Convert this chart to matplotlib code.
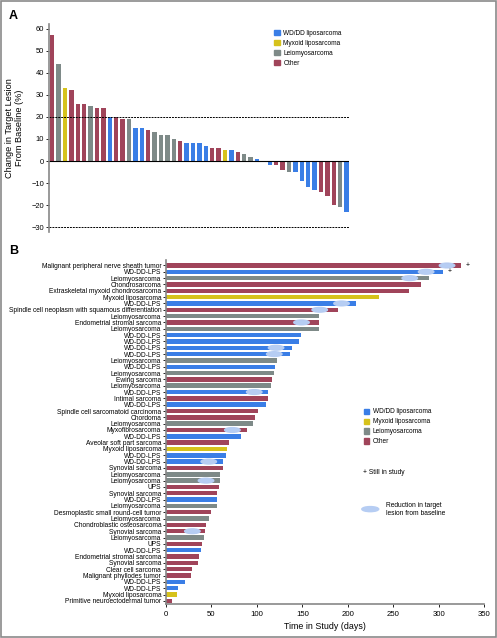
import matplotlib.pyplot as plt
from matplotlib.patches import Ellipse, Rectangle

plt.rcParams["font.family"] = ["Liberation Sans Narrow", "Liberation Sans", "DejaVu Sans"]

COLORS = {
    "WD/DD liposarcoma": "#3a7ee6",
    "Myxoid liposarcoma": "#d6c21c",
    "Leiomyosarcoma": "#7e8a88",
    "Other": "#a0445a",
}
CODE = {"B": "WD/DD liposarcoma", "Y": "Myxoid liposarcoma", "G": "Leiomyosarcoma", "R": "Other"}
SHRINK_COLOR = "#b6cdf3"

# Panel A: best change in target lesion (%)
change_values = [57, 44, 33, 32, 26, 26, 25, 24, 24, 20, 20, 19, 19, 15, 15, 14, 13, 12, 12, 10,
                 9, 8, 8, 8, 7, 6, 6, 5, 5, 4, 3, 2, 1, 0, -2, -2, -4, -5, -5, -9, -12, -13,
                 -14, -16, -20, -21, -23]
change_types = list("RGYRRRGRRBRRGBBRGGGGRBBBBRRYBRGGBBBRRGBBBBRRRGB")

# Panel B: time in study (days)
patients = [
    "Malignant peripheral nerve sheath tumor", "WD-DD-LPS", "Leiomyosarcoma", "Chondrosarcoma",
    "Extraskeletal myxoid chondrosarcoma", "Myxoid liposarcoma", "WD-DD-LPS",
    "Spindle cell neoplasm with squamous differentiation", "Leiomyosarcoma",
    "Endometrial stromal sarcoma", "Leiomyosarcoma", "WD-DD-LPS", "WD-DD-LPS", "WD-DD-LPS",
    "WD-DD-LPS", "Leiomyosarcoma", "WD-DD-LPS", "Leiomyosarcoma", "Ewing sarcoma",
    "Leiomyosarcoma", "WD-DD-LPS", "Intimal sarcoma", "WD-DD-LPS",
    "Spindle cell sarcomatoid carcinoma", "Chordoma", "Leiomyosarcoma", "Myxofibrosarcoma",
    "WD-DD-LPS", "Aveolar soft part sarcoma", "Myxoid liposarcoma", "WD-DD-LPS", "WD-DD-LPS",
    "Synovial sarcoma", "Leiomyosarcoma", "Leiomyosarcoma", "UPS", "Synovial sarcoma",
    "WD-DD-LPS", "Leiomyosarcoma", "Desmoplastic small round-cell tumor", "Leiomyosarcoma",
    "Chondroblastic osteosarcoma", "Synovial sarcoma", "Leiomyosarcoma", "UPS", "WD-DD-LPS",
    "Endometrial stromal sarcoma", "Synovial sarcoma", "Clear cell sarcoma",
    "Malignant phyllodes tumor", "WD-DD-LPS", "WD-DD-LPS", "Myxoid liposarcoma",
    "Primitive neuroectodermal tumor",
]
days = [324, 305, 289, 280, 267, 234, 209, 189, 168, 168, 168, 148, 146, 138, 136, 122, 120,
        119, 117, 115, 112, 112, 110, 101, 98, 96, 89, 83, 69, 67, 66, 63, 63, 59, 59, 58, 56,
        56, 56, 50, 47, 44, 43, 42, 40, 38, 36, 35, 29, 28, 21, 13, 12, 7]
day_types = list("RBGRRYBRGRGBBBBGBGRGBRBRRGRBRYBBRGGRRBGRGRRGRBRRRRBBYR")
still_in_study = [0, 1]
shrink_rows = [0, 1, 2, 6, 7, 9, 13, 14, 20, 26, 31, 34, 42]
shrink_days = [309, 286, 268, 193, 169, 149, 121, 119, 97, 73, 47, 44, 29]

fig = plt.figure(figsize=(4.97, 6.38), dpi=100)
fig.patches.append(Rectangle((0.002, 0.002), 0.996, 0.996, transform=fig.transFigure,
                             fill=False, edgecolor="#8a8a8a", linewidth=1.2))

# ---- Panel A ----
ax = fig.add_axes([0.0986, 0.637, 0.604, 0.325])
xs = list(range(len(change_values)))
ax.bar(xs, change_values, width=0.7, color=[COLORS[CODE[t]] for t in change_types])
ax.axhline(0, color="black", linewidth=0.8)
ax.axhline(20, color="black", linewidth=0.7, linestyle=(0, (2, 1)))
ax.axhline(-30, color="black", linewidth=0.7, linestyle=(0, (2, 1)))
ax.set_xlim(-0.5, 46.4)
ax.set_ylim(-32, 62)
ax.set_yticks(range(-30, 61, 10))
ax.set_yticklabels([str(v).replace("-", "\u2212") for v in range(-30, 61, 10)], fontsize=5.4)
ax.set_xticks([])
for side in ("top", "right", "bottom"):
    ax.spines[side].set_visible(False)
ax.spines["left"].set_color("#888888")
ax.spines["left"].set_linewidth(1.2)
ax.tick_params(axis="y", length=2, width=0.6, pad=1.5)
ax.set_ylabel("Change in Target Lesion\nFrom Baseline (%)", fontsize=6.6, labelpad=5)
handles = [plt.Rectangle((0, 0), 1, 1, color=c) for c in COLORS.values()]
fig.legend(handles, list(COLORS.keys()), loc="upper left", bbox_to_anchor=(0.54, 0.962),
           frameon=False, fontsize=4.7, handlelength=0.85, handleheight=0.85,
           handletextpad=0.55, labelspacing=0.45)
fig.text(0.018, 0.975, "A", fontsize=9, fontweight="bold", family="Liberation Sans", va="center")

# ---- Panel B ----
bx = fig.add_axes([0.334, 0.0538, 0.6405, 0.538])
ys = list(range(len(days)))
bx.barh(ys, days, height=0.7, color=[COLORS[CODE[t]] for t in day_types])
for r, d in zip(shrink_rows, shrink_days):
    bx.add_patch(Ellipse((d, r), width=17, height=0.75, color=SHRINK_COLOR, zorder=3))
for r in still_in_study:
    bx.text(days[r] + 5, r, "+", fontsize=5, va="center", ha="left")
bx.set_xlim(0, 350)
bx.set_ylim(53.45, -0.8)
bx.set_yticks(ys)
bx.set_yticklabels(patients, fontsize=4.75)
bx.set_xticks(range(0, 351, 50))
bx.tick_params(axis="x", labelsize=5.6, length=2.5, width=0.6, pad=3)
bx.tick_params(axis="y", length=2, width=0.6, pad=1.5)
for side in ("top", "right"):
    bx.spines[side].set_visible(False)
for side in ("left", "bottom"):
    bx.spines[side].set_color("#888888")
    bx.spines[side].set_linewidth(1.2)
bx.set_xlabel("Time in Study (days)", fontsize=6.4, labelpad=3)
fig.legend(handles, list(COLORS.keys()), loc="upper left", bbox_to_anchor=(0.72, 0.369),
           frameon=False, fontsize=4.7, handlelength=0.85, handleheight=0.85,
           handletextpad=0.55, labelspacing=0.45)
fig.text(0.731, 0.26, "+ Still in study", fontsize=4.8, va="center")
fig.patches.append(Ellipse((0.745, 0.202), width=0.034, height=0.008, transform=fig.transFigure,
                           color=SHRINK_COLOR))
fig.text(0.777, 0.202, "Reduction in target\nlesion from baseline", fontsize=4.8,
         va="center", linespacing=1.2)
fig.text(0.018, 0.607, "B", fontsize=9, fontweight="bold", family="Liberation Sans", va="center")

fig.savefig("out.png", dpi=100)
